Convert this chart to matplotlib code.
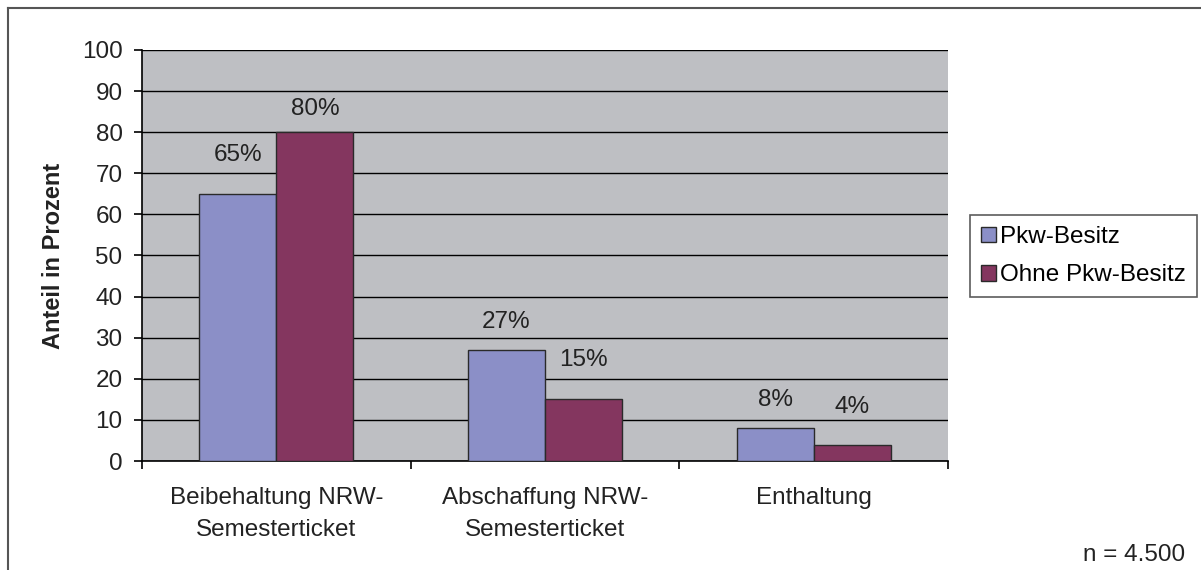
import numpy as np
import matplotlib.pyplot as plt
from matplotlib.lines import Line2D
from matplotlib.patches import Patch

plt.rcParams['font.family'] = ['Liberation Sans', 'DejaVu Sans']

# data
categories = ['Beibehaltung NRW-\nSemesterticket', 'Abschaffung NRW-\nSemesterticket', 'Enthaltung']
series_names = ['Pkw-Besitz', 'Ohne Pkw-Besitz']
pkw = [65, 27, 8]
ohne_pkw = [80, 15, 4]
colors = ['#8b8fc7', '#84365f']
# label offsets above bar tops (points), as placed in the original
label_off = [[28, 20, 20], [17, 28, 27]]

fig = plt.figure(figsize=(12.01, 5.70), dpi=100)
W, H = 1201, 570
ax = fig.add_axes([142 / W, 1 - 461 / H, 806 / W, 411 / H])
ax.set_facecolor('#bebfc3')

x = np.arange(len(categories))
bw = 0.287
FS = 17.5
for i, (vals, off, c) in enumerate([(pkw, -bw / 2, colors[0]), (ohne_pkw, bw / 2, colors[1])]):
    bars = ax.bar(x + off, vals, width=bw, color=c, edgecolor='#2a2a2a', linewidth=1.0, zorder=3)
    for b, v, o in zip(bars, vals, label_off[i]):
        ax.annotate(f'{v}%', (b.get_x() + b.get_width() / 2, v), xytext=(0, o),
                    textcoords='offset points', ha='center', va='center',
                    fontsize=FS, color='#222222', zorder=4)

ax.set_xlim(-0.5, 2.5)
ax.set_ylim(0, 100)
ax.set_yticks(np.arange(0, 101, 10))
ax.yaxis.grid(True, color='black', linewidth=1.0, zorder=1)
ax.set_axisbelow(True)
ax.set_xticks([-0.5, 0.5, 1.5, 2.5])
ax.set_xticklabels([])
ax.set_xticks(x, minor=True)
ax.set_xticklabels(categories, minor=True, fontsize=FS, color='#222222', linespacing=1.55)
ax.tick_params(axis='x', which='minor', length=0, pad=19)
ax.tick_params(axis='x', which='major', direction='out', length=6, width=1.2)
ax.tick_params(axis='y', direction='out', length=6, width=1.2, labelsize=FS,
               labelcolor='#222222', pad=8)
for s in ['top', 'right']:
    ax.spines[s].set_visible(False)
for s in ['left', 'bottom']:
    ax.spines[s].set_linewidth(1.2)
ax.set_ylabel('Anteil in Prozent', fontsize=17, fontweight='bold', color='#222222', labelpad=12)

handles = [Patch(facecolor=c, edgecolor='#2a2a2a', label=n) for c, n in zip(colors, series_names)]
leg = fig.legend(handles=handles, loc='upper left', bbox_to_anchor=(970 / W, 1 - 215 / H),
                 frameon=True, fancybox=False, edgecolor='#333333', fontsize=FS,
                 handlelength=0.6, handleheight=0.6, handletextpad=0.2, borderpad=0.45,
                 labelspacing=0.68, borderaxespad=0)
leg.get_frame().set_linewidth(1.2)

fig.text(1185 / W, 1 - 555 / H, 'n = 4.500', ha='right', va='center', fontsize=FS, color='#222222')

# outer frame (top and left edges only visible)
fig.add_artist(Line2D([8 / W, 1], [1 - 8 / H, 1 - 8 / H], color='#555555', lw=1.5))
fig.add_artist(Line2D([8 / W, 8 / W], [0, 1 - 8 / H], color='#555555', lw=1.5))

fig.savefig('out.png', dpi=100)
